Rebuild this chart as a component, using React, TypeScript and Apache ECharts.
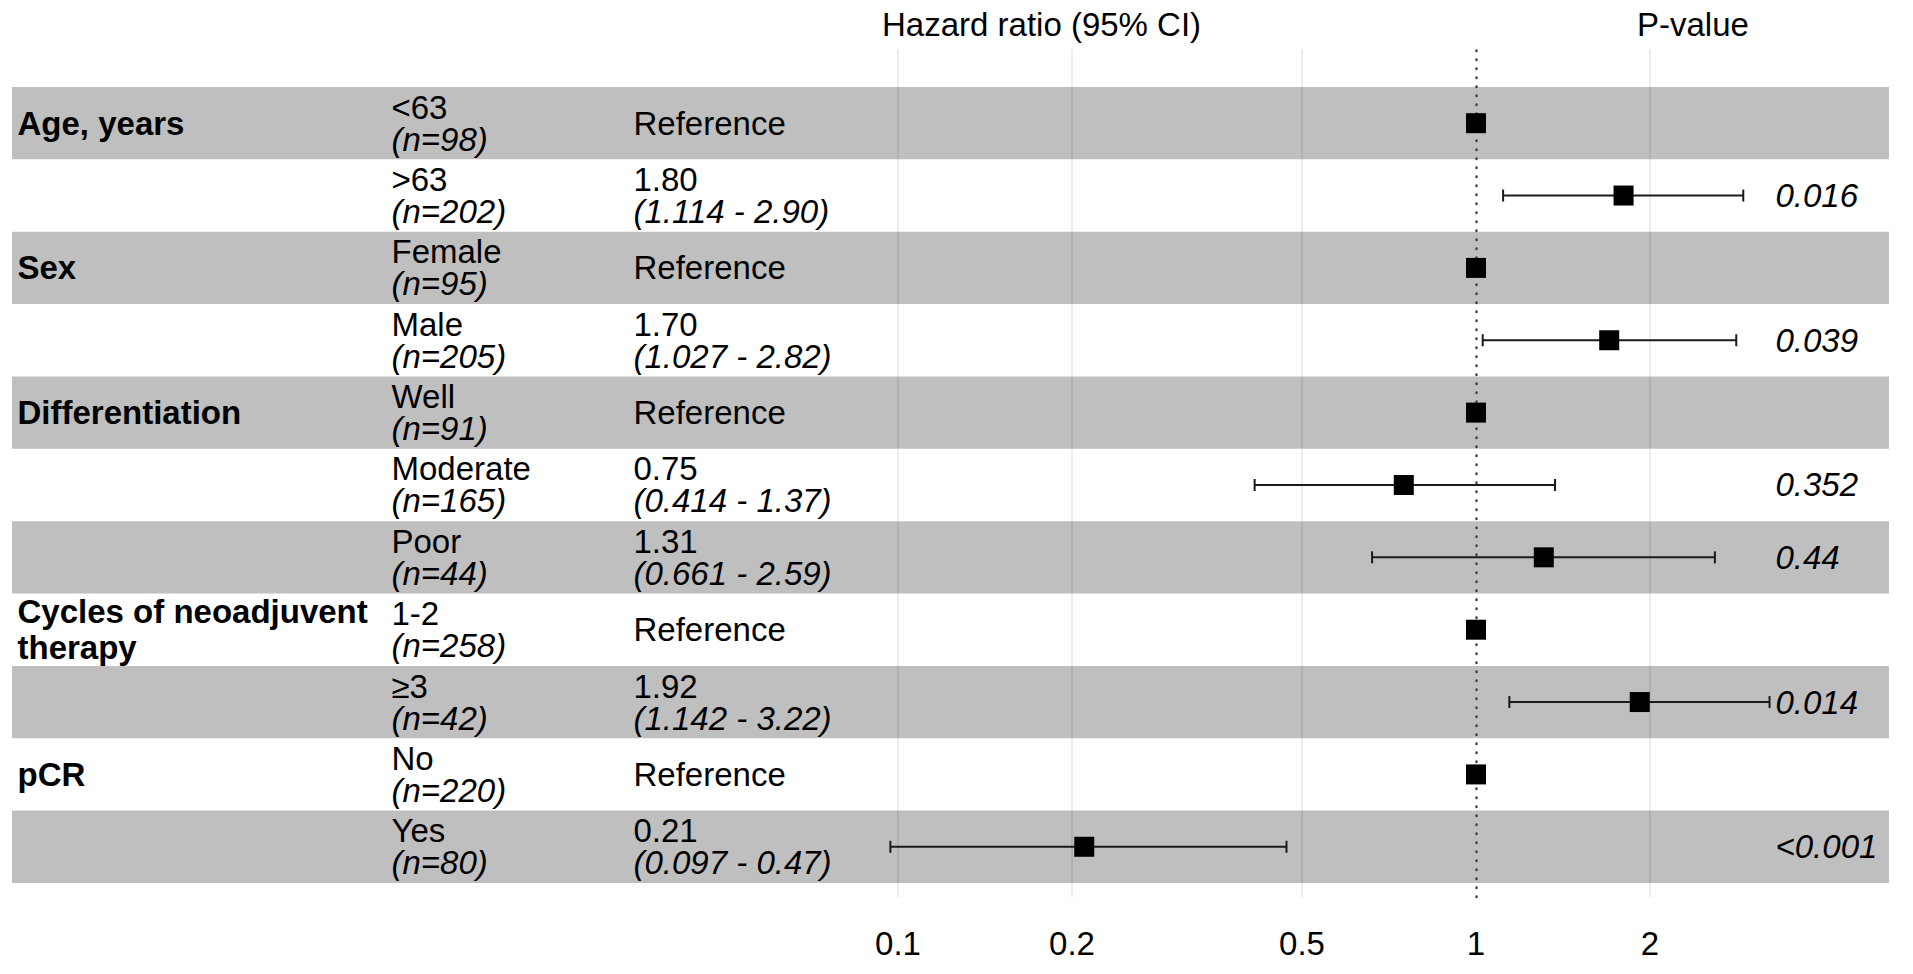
import React, { useEffect, useRef } from "react";
import * as echarts from "echarts";

// ---------- data ----------
const groupLabels = ["Age, years", "", "Sex", "", "Differentiation", "", "", "Cycles of neoadjuvent\ntherapy", "", "pCR", ""];
const subgroups = ["<63", ">63", "Female", "Male", "Well", "Moderate", "Poor", "1-2", "≥3", "No", "Yes"];
const counts = [98, 202, 95, 205, 91, 165, 44, 258, 42, 220, 80];
const hazardRatios = [1, 1.8, 1, 1.7, 1, 0.75, 1.31, 1, 1.92, 1, 0.21];
const isReference = [true, false, true, false, true, false, false, true, false, true, false];
const ciLower = [null, 1.114, null, 1.027, null, 0.414, 0.661, null, 1.142, null, 0.097];
const ciUpper = [null, 2.9, null, 2.82, null, 1.37, 2.59, null, 3.22, null, 0.47];
const pValues = ["", "0.016", "", "0.039", "", "0.352", "0.44", "", "0.014", "", "<0.001"];
const xTicks = [0.1, 0.2, 0.5, 1, 2];
const shadedRows = [0, 2, 4, 6, 8, 10];

// ---------- layout ----------
const FONT = "'Liberation Sans', Arial, sans-serif";
const FS = 33;
const GRID = { left: 12, right: 24, top: 49, bottom: 77 };
const GRID_W = 1913 - GRID.left - GRID.right;
const X_MIN = 0.0029316;
const X_MAX = 5.1823;
const Y_MIN = -1.025;
const Y_MAX = 10.694;
const COL_VAR = 5;
const COL_SUB = 379;
const COL_HR = 621;
const COL_P = 1763;

function buildOption() {
  const rowIdx = subgroups.map((_, i) => i);

  const tableData: any[] = [];
  rowIdx.forEach((i) => {
    if (groupLabels[i]) {
      tableData.push({
        value: [COL_VAR, i],
        label: { formatter: groupLabels[i].split("\n").map((s) => `{b|${s}}`).join("\n") },
      });
    }
    tableData.push({
      value: [COL_SUB, i],
      label: { formatter: `{s|${subgroups[i]}}\n{it|(n=${counts[i]})}` },
    });
    const hrText = isReference[i]
      ? `{s|Reference}`
      : `{s|${hazardRatios[i].toFixed(2)}}\n{it|(${(ciLower[i] as number).toFixed(3)} - ${(ciUpper[i] as number).toFixed(2)})}`;
    tableData.push({ value: [COL_HR, i], label: { formatter: hrText } });
    if (pValues[i]) {
      tableData.push({ value: [COL_P, i], label: { formatter: `{it|${pValues[i]}}` } });
    }
  });

  const ciData = rowIdx.filter((i) => ciLower[i] != null).map((i) => [ciLower[i], ciUpper[i], i]);
  const pointData = rowIdx.map((i) => [hazardRatios[i], i]);

  const baseRich = { fontSize: FS, fontFamily: FONT, color: "#000", lineHeight: 32 };

  const gridLines = xTicks
    .filter((v) => v !== 1)
    .map((v) => [
      { coord: [v, Y_MAX], name: String(v) },
      { coord: [v, Y_MIN] },
    ]);
  const refLine = [
    {
      coord: [1, Y_MAX],
      name: "1",
      lineStyle: { color: "#444", width: 2.5, type: [0.5, 8.5], cap: "round" },
    },
    { coord: [1, Y_MIN] },
  ];

  return {
    animation: false,
    backgroundColor: "#ffffff",
    grid: { ...GRID, containLabel: false },
    xAxis: [
      {
        type: "log",
        min: X_MIN,
        max: X_MAX,
        axisLine: { show: false },
        axisTick: { show: false },
        axisLabel: { show: false },
        splitLine: { show: false },
      },
      {
        type: "value",
        min: 0,
        max: GRID_W,
        axisLine: { show: false },
        axisTick: { show: false },
        axisLabel: { show: false },
        splitLine: { show: false },
      },
    ],
    yAxis: {
      type: "value",
      inverse: true,
      min: Y_MIN,
      max: Y_MAX,
      show: false,
      splitLine: { show: false },
    },
    graphic: [
      {
        type: "text",
        x: 882,
        y: 24,
        style: { text: "Hazard ratio (95% CI)", fontSize: FS, fontFamily: FONT, fill: "#000", verticalAlign: "middle", align: "left" },
      },
      {
        type: "text",
        x: 1637,
        y: 24,
        style: { text: "P-value", fontSize: FS, fontFamily: FONT, fill: "#000", verticalAlign: "middle", align: "left" },
      },
    ],
    series: [
      {
        name: "background",
        type: "line",
        data: [],
        silent: true,
        markArea: {
          silent: true,
          z: 1,
          itemStyle: { color: "#bfbfbf" },
          data: shadedRows.map((r) => [{ yAxis: r - 0.5 }, { yAxis: r + 0.5 }]),
        },
        markLine: {
          silent: true,
          z: 3,
          symbol: ["none", "none"],
          lineStyle: { color: "rgba(0,0,0,0.1)", width: 1.5, type: "solid" },
          label: {
            show: true,
            position: "start",
            distance: 30,
            formatter: "{b}",
            fontSize: FS,
            fontFamily: FONT,
            color: "#000",
          },
          data: [...gridLines, refLine],
        },
      },
      {
        name: "CI",
        type: "custom",
        z: 6,
        silent: true,
        data: ciData,
        encode: { x: [0, 1], y: 2 },
        renderItem: (params: any, api: any) => {
          const p1 = api.coord([api.value(0), api.value(2)]);
          const p2 = api.coord([api.value(1), api.value(2)]);
          const y = p1[1];
          const st = { stroke: "#1a1a1a", lineWidth: 2 };
          return {
            type: "group",
            children: [
              { type: "line", shape: { x1: p1[0], y1: y, x2: p2[0], y2: y }, style: st },
              { type: "line", shape: { x1: p1[0], y1: y - 6, x2: p1[0], y2: y + 6 }, style: st },
              { type: "line", shape: { x1: p2[0], y1: y - 6, x2: p2[0], y2: y + 6 }, style: st },
            ],
          };
        },
      },
      {
        name: "HR",
        type: "scatter",
        z: 10,
        silent: true,
        symbol: "rect",
        symbolSize: 20,
        itemStyle: { color: "#000", opacity: 1 },
        data: pointData,
      },
      {
        name: "table",
        type: "scatter",
        xAxisIndex: 1,
        yAxisIndex: 0,
        z: 10,
        silent: true,
        symbolSize: 1,
        itemStyle: { color: "rgba(0,0,0,0)", opacity: 1 },
        label: {
          show: true,
          position: "right",
          distance: 0,
          fontSize: FS,
          fontFamily: FONT,
          color: "#000",
          rich: {
            s: { ...baseRich },
            it: { ...baseRich, fontStyle: "italic" },
            b: { ...baseRich, fontWeight: "bold", lineHeight: 36 },
          },
        },
        labelLayout: { hideOverlap: false },
        data: tableData,
      },
    ],
  };
}

export default function App() {
  const ref = useRef<HTMLDivElement>(null);
  useEffect(() => {
    if (!ref.current) return;
    const chart = echarts.init(ref.current, null, { renderer: "svg" });
    chart.setOption(buildOption() as any);
    return () => chart.dispose();
  }, []);
  return <div ref={ref} style={{ position: "absolute", left: 0, top: 0, width: 1913, height: 974 }} />;
}
